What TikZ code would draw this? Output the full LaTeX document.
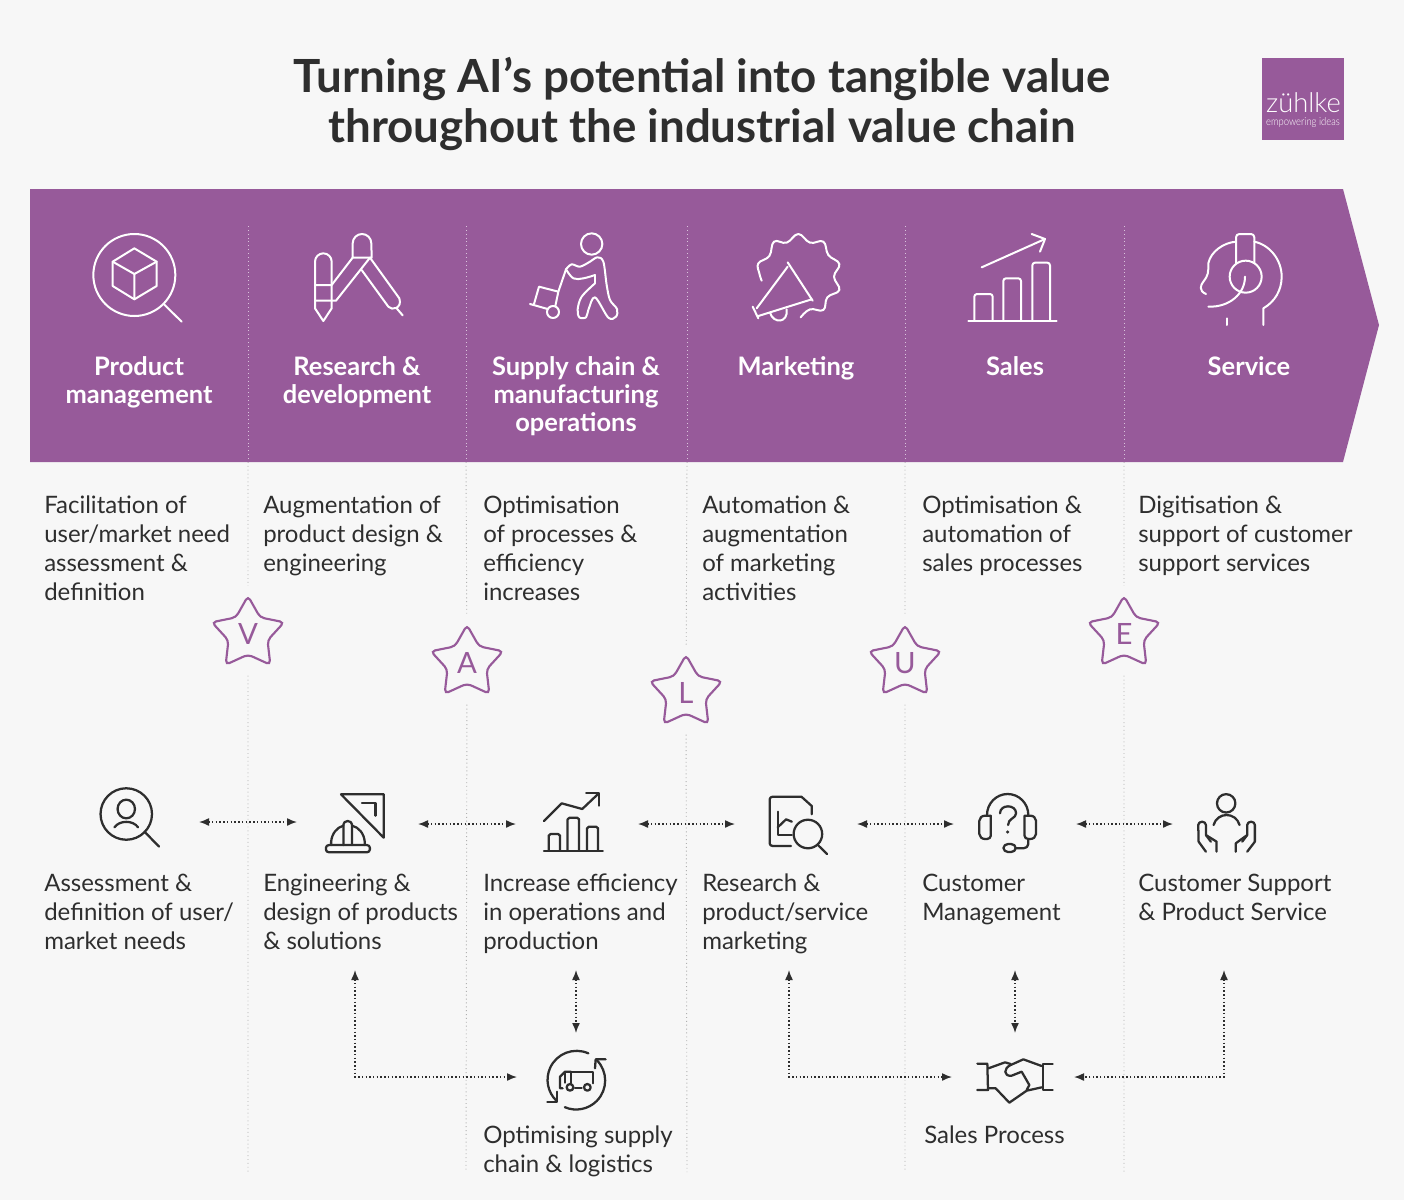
\documentclass[tikz,border=0pt]{standalone}
\usepackage{fontspec}
\setmainfont{Lato}
\newfontfamily\logofont{Lato Light}
\usetikzlibrary{arrows.meta,shapes.geometric}
\definecolor{zpurple}{HTML}{975A9A}
\definecolor{zpage}{HTML}{F7F7F7}
\definecolor{zink}{HTML}{2E2E2E}
\definecolor{zsepw}{HTML}{D9C3DB}
\definecolor{zsepg}{HTML}{B0B0B0}
\tikzset{
  iconw/.style={draw=white,line width=1.5pt,line cap=round,line join=round},
  iconk/.style={draw=zink,line width=1.7pt,line cap=round,line join=round},
  sepw/.style={draw=zsepw,line width=.7pt,dash pattern=on .7pt off 2.2pt},
  sepg/.style={draw=zsepg,line width=.7pt,dash pattern=on .7pt off 2.2pt},
  biarrow/.style={draw=zink,line width=1.1pt,dash pattern=on 1.1pt off 1.7pt,{Latex[length=7.5pt,width=6pt]}-{Latex[length=7.5pt,width=6pt]}}
}
\begin{document}
\begin{tikzpicture}[x=.75pt,y=-.75pt]
  \useasboundingbox (0,0) rectangle (1404,1200);
  \fill[zpage] (0,0) rectangle (1404,1200);

  % banner and logo
  \fill[zpurple] (30,189) -- (1343,189) -- (1379,325) -- (1343,462) -- (30,462) -- cycle;
  \fill[zpurple] (1262,58) rectangle (1344,140);
  \node[text=white,inner sep=0pt,anchor=base,font=\fontsize{20.5}{22}\logofont] (logo) at (1303.5,112) {zühlke};
  \node[text=white,inner sep=0pt,anchor=base,xscale=.86,font=\fontsize{8.2}{9}\logofont] (claim) at (1303,125) {empowering ideas};

  \node[align=center,anchor=north,inner sep=0pt,text=zink,execute at begin node={\strut},
        font=\fontsize{34.25}{37.5}\bfseries\selectfont] (title) at (702,57)
        {Turning AI’s potential into tangible value\\throughout the industrial value chain};

  % letters
  \begin{scope}[every node/.style={star,star points=5,star point ratio=1.85,draw=zpurple,fill=zpage,
      line width=1.6pt,rounded corners=3.2pt,minimum size=57pt,inner sep=0pt,text=zpurple,
      font=\fontsize{22}{22}\selectfont}]
    \node (v) at (248,634) {V};
    \node (a) at (467,663) {A};
    \node (l) at (686,693) {L};
    \node (u) at (905,663) {U};
    \node (e) at (1124,634) {E};
  \end{scope}

  % separators
  \coordinate (vtop) at (248,226);
  \coordinate (atop) at (466,226);
  \coordinate (ltop) at (687,226);
  \coordinate (utop) at (905,226);
  \coordinate (etop) at (1124,226);
  \coordinate (vmid) at (248,462);
  \coordinate (amid) at (466,462);
  \coordinate (lmid) at (687,462);
  \coordinate (umid) at (905,462);
  \coordinate (emid) at (1124,462);
  \coordinate (vend) at (248,1172);
  \coordinate (aend) at (466,1172);
  \coordinate (lend) at (687,1172);
  \coordinate (uend) at (905,1172);
  \coordinate (eend) at (1124,1172);

  \begin{scope}[every edge/.style={sepw}]
    \path (vtop) edge (vmid);
    \path (atop) edge (amid);
    \path (ltop) edge (lmid);
    \path (utop) edge (umid);
    \path (etop) edge (emid);
  \end{scope}

  \begin{scope}[every edge/.style={sepg}]
    \path (vmid) edge[shorten >=6pt] (v);
    \path (amid) edge[shorten >=6pt] (a);
    \path (lmid) edge[shorten >=6pt] (l);
    \path (umid) edge[shorten >=6pt] (u);
    \path (emid) edge[shorten >=6pt] (e);
    \path (v) edge[shorten <=15pt] (vend);
    \path (a) edge[shorten <=15pt] (aend);
    \path (l) edge[shorten <=15pt] (lend);
    \path (u) edge[shorten <=15pt] (uend);
    \path (e) edge[shorten <=15pt] (eend);
  \end{scope}

  % banner captions
  \begin{scope}[every node/.style={align=center,anchor=north,inner sep=0pt,text=white,execute at begin node={\strut},
      font=\fontsize{19.1}{21}\bfseries\selectfont}]
    \node (pm)  at (139,356)  {Product\\management};
    \node (rd)  at (357,356)  {Research \&\\development};
    \node (sc)  at (576,356)  {Supply chain \&\\manufacturing\\operations};
    \node (mk)  at (796,356)  {Marketing};
    \node (sl)  at (1015,356) {Sales};
    \node (sv)  at (1249,356) {Service};
  \end{scope}

  % texts below the banner
  \begin{scope}[every node/.style={align=left,anchor=north west,inner sep=0pt,text=zink,execute at begin node={\strut},
      font=\fontsize{18}{21.75}\selectfont}]
    \node (pmt) at (44,496)   {Facilitation of\\user/market need\\assessment \&\\definition};
    \node (rdt) at (263,496)  {Augmentation of\\product design \&\\engineering};
    \node (sct) at (483,496)  {Optimisation\\of processes \&\\efficiency\\increases};
    \node (mkt) at (702,496)  {Automation \&\\augmentation\\of marketing\\activities};
    \node (slt) at (922,496)  {Optimisation \&\\automation of\\sales processes};
    \node (svt) at (1138,496) {Digitisation \&\\support of customer\\support services};

    \node (ast) at (44,874)   {Assessment \&\\definition of user/\\market needs};
    \node (ent) at (263,874)  {Engineering \&\\design of products\\\& solutions};
    \node (int) at (483,874)  {Increase efficiency\\in operations and\\production};
    \node (ret) at (702,874)  {Research \&\\product/service\\marketing};
    \node (cut) at (922,874)  {Customer\\Management};
    \node (sut) at (1138,874) {Customer Support\\\& Product Service};

    \node (opt) at (483,1126) {Optimising supply\\chain \& logistics};
    \node (spt) at (924,1123) {Sales Process};
  \end{scope}

  % arrow ends
  \coordinate (h1a) at (199,822);
  \coordinate (h1b) at (297,822);
  \coordinate (h2a) at (418,824);
  \coordinate (h2b) at (516,824);
  \coordinate (h3a) at (638,824);
  \coordinate (h3b) at (735,824);
  \coordinate (h4a) at (857,824);
  \coordinate (h4b) at (954,824);
  \coordinate (h5a) at (1076,824);
  \coordinate (h5b) at (1173,824);
  \coordinate (v1a) at (576,970);
  \coordinate (v1b) at (576,1033);
  \coordinate (v2a) at (1015,970);
  \coordinate (v2b) at (1015,1033);
  \coordinate (c1a) at (355,970);
  \coordinate (c1b) at (517,1077);
  \coordinate (c2a) at (789,970);
  \coordinate (c2b) at (952,1077);
  \coordinate (c3a) at (1224,970);
  \coordinate (c3b) at (1074,1077);

  \begin{scope}[every edge/.style={biarrow}]
    \path (h1a) edge (h1b);
    \path (h2a) edge (h2b);
    \path (h3a) edge (h3b);
    \path (h4a) edge (h4b);
    \path (h5a) edge (h5b);
    \path (v1a) edge (v1b);
    \path (v2a) edge (v2b);
  \end{scope}
  \draw[biarrow] (c1a) |- (c1b);
  \draw[biarrow] (c2a) |- (c2b);
  \draw[biarrow] (c3a) |- (c3b);

  % white icons
  \begin{scope}[shift={(30,210)},x=.25pt,y=-.25pt,every path/.style={iconw}]
    \draw (313,195) circle (123);
    \draw (313,115) -- (380,155) -- (380,228) -- (313,268) -- (248,228) -- (248,155) -- cycle;
    \draw (248,155) -- (313,192) -- (380,155) (313,192) -- (313,268);
    \draw (402,283) -- (455,335);
    % pencil
    \draw (855,295) -- (855,155) arc (180:360:25) -- (905,295) -- (880,333) -- cycle;
    \draw (855,225) -- (905,225) -- (968,143) (855,272) -- (918,272) -- (1020,143);
    % compass
    \draw (968,143) -- (968,100) arc (180:360:28) -- (1025,143) -- cycle;
    \draw (995,180) -- (1075,290) .. controls (1085,303) and (1118,295) .. (1108,265) -- (1020,143);
    \draw (1100,295) -- (1118,316);
  \end{scope}

  \begin{scope}[shift={(480,210)},x=.25pt,y=-.25pt,every path/.style={iconw}]
    \draw (335,102) circle (32);
    \draw plot[smooth,tension=.55] coordinates {(258,178) (275,163) (300,170) (330,155) (352,142) (370,155) (380,225) (390,270) (411,297) (408,320) (385,323) (345,262) (325,300) (318,322) (298,322) (293,298) (305,260) (345,220)};
    \draw (345,220) -- (345,195);
    \draw plot[smooth,tension=.6] coordinates {(345,195) (310,205) (280,205) (258,178)};
    \draw (258,178) -- (235,245) -- (226,288);
    \draw (235,245) -- (177,230) -- (162,282);
    \draw (150,282) -- (203,297);
    \draw (219,306) circle (18);
    % badge
    \draw plot[smooth,tension=.7] coordinates {(845,212) (838,190) (835,160) (868,138) (882,95) (920,98) (955,72) (990,98) (1030,95) (1045,135) (1078,162) (1062,200) (1078,240) (1042,262) (1030,300) (990,298) (962,322)};
    \draw (923,157) -- (998,272);
    \draw (923,170) -- (830,295);
    \draw (835,318) -- (995,268);
    \draw (818,290) -- (835,325);
    \draw (870,308) .. controls (880,342) and (925,340) .. (920,298);
  \end{scope}

  \begin{scope}[shift={(940,50)},x=.25pt,y=-.25pt,every path/.style={iconw}]
    \draw (85,812) -- (350,812);
    \draw (103,812) -- (103,740) arc (180:270:8) -- (150,732) arc (270:360:8) -- (158,812);
    \draw (190,812) -- (190,693) arc (180:270:8) -- (235,685) arc (270:360:8) -- (243,812);
    \draw (277,812) -- (277,646) arc (180:270:8) -- (322,638) arc (270:360:8) -- (330,812);
    \draw (125,652) -- (315,567);
    \draw (275,552) -- (315,567) -- (300,605);
    % headset
    \draw (798,732) .. controls (775,722) and (782,705) .. (790,695) .. controls (805,675) and (805,670) .. (805,640) .. controls (812,605) and (850,578) .. (888,575);
    \draw (943,575) .. controls (990,585) and (1025,630) .. (1025,680) .. controls (1025,720) and (1005,755) .. (970,775) -- (970,825);
    \draw (888,640) -- (888,562) arc (180:270:10) -- (933,552) arc (270:360:10) -- (943,640);
    \draw (917,680) circle (48);
    \draw (915,680) .. controls (915,730) and (870,772) .. (805,770);
    \draw (862,805) -- (862,825);
  \end{scope}

  % dark icons
  \begin{scope}[shift={(80,770)},x=.2966pt,y=-.25pt,every path/.style={iconk}]
    \draw (117,132) circle (19.3pt);
    \draw (117,117) ellipse (22 and 28);
    \draw (87,172) .. controls (100,150) and (134,150) .. (147,172);
    \draw (163,185) -- (200,230);
    % set square and helmet
    \draw (660,73) -- (768,73) -- (768,203) -- cycle;
    \draw (713,100) -- (747,100) -- (747,137);
    \draw (622,233) arc (180:270:8) -- (725,225) arc (270:360:8) -- (733,239) arc (0:90:8) -- (630,247) arc (90:180:8) -- cycle;
    \draw (635,225) -- (635,215) .. controls (637,190) and (650,172) .. (666,167);
    \draw (688,167) .. controls (705,172) and (718,190) .. (720,215) -- (720,225);
    \draw (666,225) -- (666,164) arc (180:360:11) -- (688,225);
    % chart
    \draw (1173,242) -- (1322,242);
    \draw (1185,242) -- (1185,197) arc (180:270:5) -- (1209,192) arc (270:360:5) -- (1214,242);
    \draw (1233,242) -- (1233,148) arc (180:270:5) -- (1257,143) arc (270:360:5) -- (1262,242);
    \draw (1282,242) -- (1282,175) arc (180:270:5) -- (1305,170) arc (270:360:5) -- (1310,242);
    \draw (1173,153) -- (1218,100) -- (1270,117) -- (1310,72);
    \draw (1280,70) -- (1312,70) -- (1312,107);
  \end{scope}

  \begin{scope}[shift={(700,770)},x=.287pt,y=-.25pt,every path/.style={iconk}]
    \draw (238,228) -- (190,228) arc (90:180:8) -- (182,88) arc (180:270:8) -- (265,80) -- (292,108) -- (292,133);
    \draw (203,125) -- (203,195) -- (240,195);
    \draw (203,172) -- (225,148) -- (240,155);
    \draw (282,192) circle (10.7pt);
    \draw (308,225) -- (332,252);
    % headset
    \draw (750,135) arc (180:360:54 and 63);
    \draw (730,152) arc (180:270:15) -- (745,137) -- (760,137) -- (760,197) arc (0:90:10) -- (745,207) arc (90:180:15) -- cycle;
    \draw (878,152) arc (0:-90:15) -- (848,137) -- (848,197) arc (180:90:10) -- (863,207) arc (90:0:15) -- cycle;
    \draw (858,207) -- (858,222) arc (0:90:13) -- (825,235);
    \draw (793,234) arc (180:270:12) -- (813,222) arc (270:450:12) -- (805,246) arc (90:180:12) -- cycle;
    \draw (784,130) .. controls (784,102) and (826,102) .. (826,130) .. controls (826,145) and (805,145) .. (805,165);
    \fill[zink,draw=none] (804,186) circle (1.3pt);
    % person and hands
    \draw (1375,100) circle (6.9pt);
    \draw (1342,165) .. controls (1352,125) and (1400,125) .. (1410,165);
    \draw (1322,245) -- (1303,215) -- (1302,165) arc (180:360:10) -- (1322,195) -- (1350,215) -- (1350,245);
    \draw (1322,195) -- (1335,215);
    \draw (1430,245) -- (1450,215) -- (1450,165) arc (0:-180:10) -- (1430,195) -- (1400,220) -- (1400,245);
    \draw (1430,195) -- (1417,215);
  \end{scope}

  \begin{scope}[shift={(340,960)},x=.25pt,y=-.25pt,every path/.style={iconk}]
    \draw (745,280) arc (-66:-226:87);
    \draw (622,425) -- (652,425) -- (652,395);
    \draw (770,300) arc (-45:113:87);
    \draw (765,325) -- (767,298) -- (797,298);
    \draw (693,370) -- (693,335) -- (758,335) -- (758,370);
    \draw (668,385) -- (660,385) -- (660,350) -- (675,335) -- (693,335);
    \draw (675,340) -- (675,368);
    \draw (690,382) circle (10);
    \draw (742,382) circle (10);
    \draw (705,385) -- (725,385);
  \end{scope}

  \begin{scope}[shift={(770,960)},x=.25pt,y=-.25pt,every path/.style={iconk}]
    \draw (622,311) -- (652,311) -- (654,390) -- (622,390);
    \draw (848,311) -- (818,311) -- (818,390) -- (848,390);
    \draw (655,325) -- (705,307) -- (722,312);
    \draw (815,318) -- (760,298) -- (722,315) .. controls (700,325) and (700,350) .. (725,347) -- (755,335) -- (778,375) -- (770,390);
    \draw (655,385) -- (677,385) -- (718,428) -- (770,392) -- (815,382);
  \end{scope}
\end{tikzpicture}
\end{document}
